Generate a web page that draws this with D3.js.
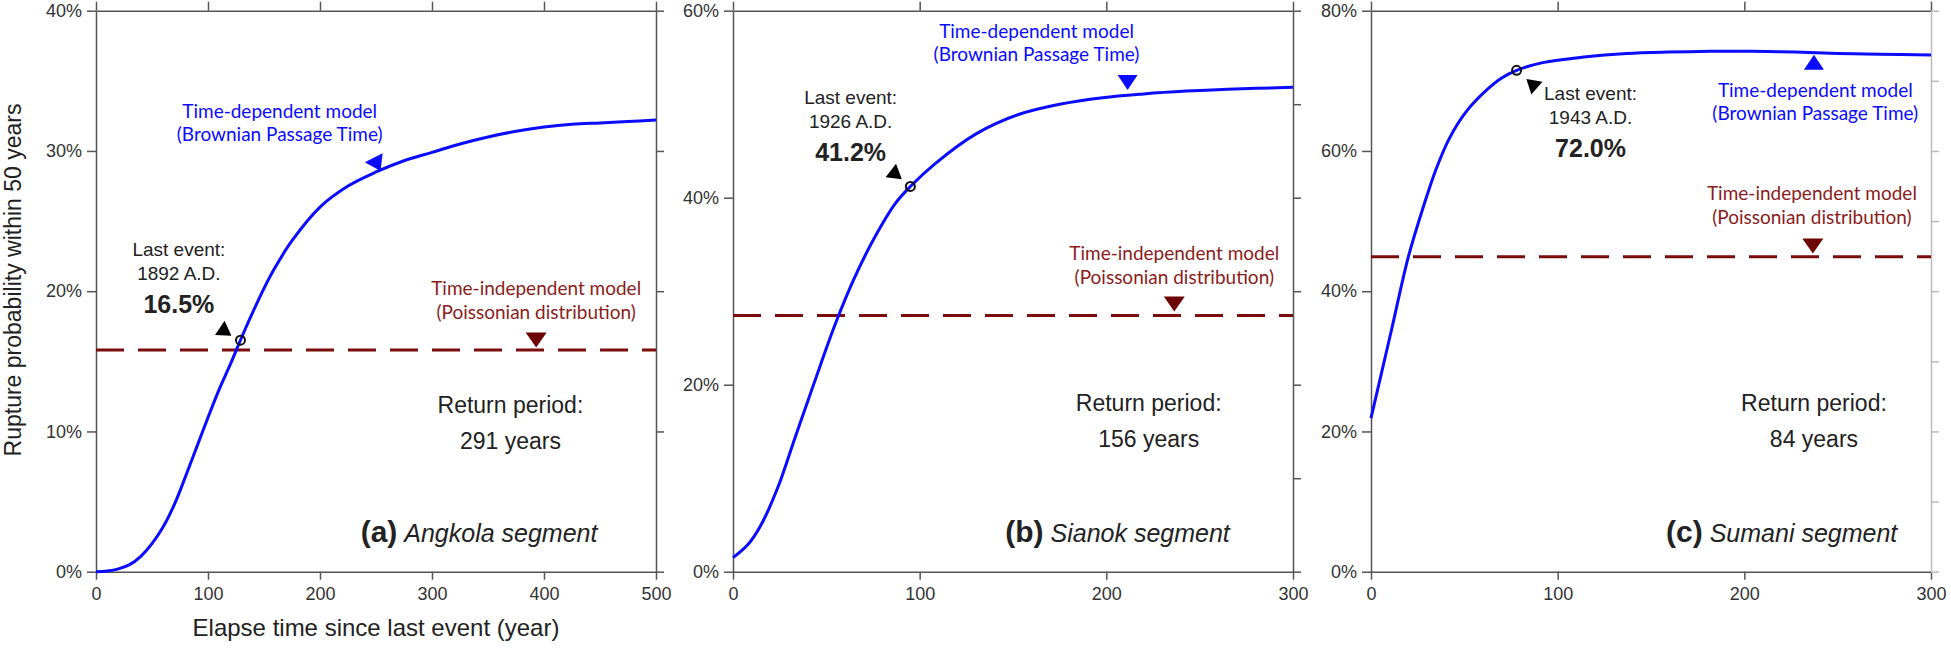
<!DOCTYPE html>
<html lang="en">
<head>
<meta charset="UTF-8">
<title>Rupture probability - Sumatran fault segments</title>
<script src="https://d3js.org/d3.v7.min.js"></script>
<style>
  body { margin: 0; background: #fff; font-family: "Liberation Sans", Arial, sans-serif; }
  .axis path, .axis line { stroke: #555; stroke-width: 1.5px; }
  .axis text { font-family: "Liberation Sans", Arial, sans-serif; font-size: 18px; fill: #333; }
  .note { font-family: Lato, "Liberation Sans", sans-serif; font-size: 19px; }
</style>
</head>
<body>
<svg width="1951" height="650"></svg>
<script>
// ---- data ----
const angkolaYears = [0, 10, 20, 30, 40, 50, 60, 70, 80, 90, 100, 110, 120, 130, 140, 150, 160, 175, 200, 225, 250, 275, 300, 325, 350, 375, 400, 425, 450, 475, 500];
const angkolaProb  = [0, 0.05, 0.2, 0.5, 1.1, 2.0, 3.2, 4.8, 6.8, 8.9, 11.0, 13.0, 14.8, 16.7, 18.5, 20.2, 21.7, 23.6, 26.0, 27.5, 28.5, 29.3, 29.9, 30.5, 31.0, 31.4, 31.7, 31.9, 32.0, 32.1, 32.2];

const sianokYears = [0, 8, 15, 24, 33, 40, 47, 55, 65, 76, 87, 95, 108, 130, 153, 175, 198, 220, 243, 265, 300];
const sianokProb  = [1.5, 2.9, 5.0, 9.0, 14.2, 18.2, 22.2, 26.6, 31.4, 35.8, 39.4, 41.2, 43.6, 46.8, 48.9, 50.0, 50.7, 51.1, 51.4, 51.6, 51.8];

const sumaniYears = [0, 11, 20, 28, 35, 42, 51, 62, 70, 78, 92, 114, 137, 159, 182, 204, 227, 250, 272, 300];
const sumaniProb  = [21.9, 34.5, 44.9, 52.0, 57.5, 61.8, 65.6, 68.7, 70.4, 71.5, 72.6, 73.4, 73.9, 74.1, 74.2, 74.2, 74.1, 73.9, 73.8, 73.7];

const panelLetters   = ["(a)", "(b)", "(c)"];
const segmentNames   = ["Angkola segment", "Sianok segment", "Sumani segment"];
const lastEventAD    = [1892, 1926, 1943];
const lastElapsed    = [129, 95, 78];
const lastEventProb  = [16.5, 41.2, 72.0];
const returnPeriods  = [291, 156, 84];
const poissonProb    = [15.8, 27.4, 44.9];
const xMaxYears      = [500, 300, 300];
const yMaxPct        = [40, 60, 80];
const leftTickStep   = [10, 20, 20];

const curves = [
  angkolaYears.map((t, i) => [t, angkolaProb[i]]),
  sianokYears.map((t, i) => [t, sianokProb[i]]),
  sumaniYears.map((t, i) => [t, sumaniProb[i]])
];

// ---- layout ----
const svg = d3.select("svg");
const plotTop = 10.7, plotBottom = 571.7;
const panelLeft = [96, 733, 1371], panelW = 560;
const blue = "#0b0bff", darkRed = "#7a0c0c", noteRed = "#8a1c1c";

// annotation anchors in data units [year, percent] (+ rotation for arrows)
const notes = [
  { last: [74, 23.0], blk: [114, 17.2, 124], blueTxt: [164, 32.85], blueTri: [250, 29.2, 153],
    redTxt: [393, 20.2], redTri: [393, 16.7], ret: [370, 11.9], seg: [342, 2.55] },
  { last: [63, 50.7], blk: [86.5, 42.6, 128], blueTxt: [162.6, 57.75], blueTri: [211.4, 52.6, 180],
    redTxt: [236.4, 34.05], redTri: [236.4, 28.9], ret: [222.7, 18.0], seg: [206, 3.74] },
  { last: [117.6, 68.2], blk: [87, 69.4, -49], blueTxt: [238, 68.7], blueTri: [237.3, 72.3, 0],
    redTxt: [236.2, 54.0], redTri: [236.7, 46.8], ret: [237.3, 24.0], seg: [220, 5.0] }
];

const tri = (w, h) => `M0,${-h * 2 / 3}L${w / 2},${h / 3}L${-w / 2},${h / 3}Z`;

curves.forEach((data, i) => {
  const x = d3.scaleLinear().domain([0, xMaxYears[i]]).range([panelLeft[i], panelLeft[i] + panelW]);
  const y = d3.scaleLinear().domain([0, yMaxPct[i]]).range([plotBottom, plotTop]);
  const g = svg.append("g");
  const xt = d3.range(0, xMaxYears[i] + 1, 100);

  // frame + ticks
  g.append("g").attr("class", "axis").attr("transform", `translate(0,${plotBottom})`)
    .call(d3.axisBottom(x).tickValues(xt).tickSize(8).tickPadding(8).tickSizeOuter(0));
  g.append("g").attr("class", "axis").attr("transform", `translate(0,${plotTop})`)
    .call(d3.axisTop(x).tickValues(xt).tickSize(9).tickFormat("").tickSizeOuter(0));
  g.append("g").attr("class", "axis").attr("transform", `translate(${panelLeft[i]},0)`)
    .call(d3.axisLeft(y).tickValues(d3.range(0, yMaxPct[i] + 1, leftTickStep[i]))
      .tickSize(9).tickPadding(5).tickSizeOuter(0).tickFormat(d => d + "%"));
  const right = g.append("g").attr("class", "axis").attr("transform", `translate(${panelLeft[i] + panelW},0)`)
    .call(d3.axisRight(y).tickValues(d3.range(0, yMaxPct[i] + 1, 10)).tickSize(8).tickFormat("").tickSizeOuter(0));
  if (i === 2) right.selectAll("path, line").style("stroke", "#bbb");

  // Poissonian level
  g.append("line")
    .attr("x1", x(0)).attr("x2", x(xMaxYears[i]))
    .attr("y1", y(poissonProb[i])).attr("y2", y(poissonProb[i]))
    .attr("stroke", darkRed).attr("stroke-width", 3).attr("stroke-dasharray", "28,14");

  // BPT curve
  g.append("path").datum(data)
    .attr("fill", "none").attr("stroke", blue).attr("stroke-width", 3)
    .attr("d", d3.line().x(d => x(d[0])).y(d => y(d[1])).curve(d3.curveCatmullRom.alpha(0.5)));

  // last event marker, sitting on the curve
  const onCurve = d3.scaleLinear().domain(data.map(d => d[0])).range(data.map(d => d[1]));
  g.append("circle").attr("cx", x(lastElapsed[i])).attr("cy", y(onCurve(lastElapsed[i])))
    .attr("r", 4.5).attr("fill", "none").attr("stroke", "#111").attr("stroke-width", 2);

  const n = notes[i];
  const at = p => `translate(${x(p[0])},${y(p[1])})`;

  g.append("path").attr("d", tri(17, 14)).attr("fill", "#000")
    .attr("transform", at(n.blk) + ` rotate(${n.blk[2]})`);
  g.append("path").attr("d", tri(20, 15)).attr("fill", blue)
    .attr("transform", at(n.blueTri) + ` rotate(${n.blueTri[2]})`);
  g.append("path").attr("d", tri(21, 15)).attr("fill", "#6e0505")
    .attr("transform", at(n.redTri) + " rotate(180)");

  // last event text
  const lt = g.append("text").attr("transform", at(n.last)).attr("text-anchor", "middle")
    .style("font-size", "19px").attr("fill", "#222");
  lt.append("tspan").attr("x", 0).attr("dy", "0.35em").text("Last event:");
  lt.append("tspan").attr("x", 0).attr("dy", 24).text(`${lastEventAD[i]} A.D.`);
  lt.append("tspan").attr("x", 0).attr("dy", 33).style("font-size", "25px").style("font-weight", "bold")
    .text(lastEventProb[i].toFixed(1) + "%");

  // model notes
  const bt = g.append("text").attr("class", "note").attr("transform", at(n.blueTxt))
    .attr("text-anchor", "middle").attr("fill", blue);
  bt.append("tspan").attr("x", 0).attr("dy", "0.35em").text("Time-dependent model");
  bt.append("tspan").attr("x", 0).attr("dy", 23).text("(Brownian Passage Time)");

  const rt = g.append("text").attr("class", "note").attr("transform", at(n.redTxt))
    .attr("text-anchor", "middle").attr("fill", noteRed);
  rt.append("tspan").attr("x", 0).attr("dy", "0.35em").text("Time-independent model");
  rt.append("tspan").attr("x", 0).attr("dy", 24).text("(Poissonian distribution)");

  // return period
  const rp = g.append("text").attr("transform", at(n.ret)).attr("text-anchor", "middle")
    .style("font-size", "23px").attr("fill", "#222");
  rp.append("tspan").attr("x", 0).attr("dy", "0.35em").text("Return period:");
  rp.append("tspan").attr("x", 0).attr("dy", 36).text(`${returnPeriods[i]} years`);

  // panel label
  const pl = g.append("text").attr("transform", at(n.seg)).attr("text-anchor", "middle")
    .attr("dy", "0.35em").attr("fill", "#222");
  pl.append("tspan").style("font-size", "30px").style("font-weight", "bold").text(panelLetters[i]);
  pl.append("tspan").style("font-size", "25px").style("font-style", "italic").text("\u00a0" + segmentNames[i]);
});

// axis titles
svg.append("text").attr("x", panelLeft[0] + panelW / 2).attr("y", 628).attr("dy", "0.35em")
  .attr("text-anchor", "middle").style("font-size", "24px").attr("fill", "#222")
  .text("Elapse time since last event (year)");
svg.append("text").attr("transform", `translate(13,${280}) rotate(-90)`).attr("dy", "0.35em")
  .attr("text-anchor", "middle").style("font-size", "23px").attr("fill", "#222")
  .text("Rupture probability within 50 years");
</script>
</body>
</html>
